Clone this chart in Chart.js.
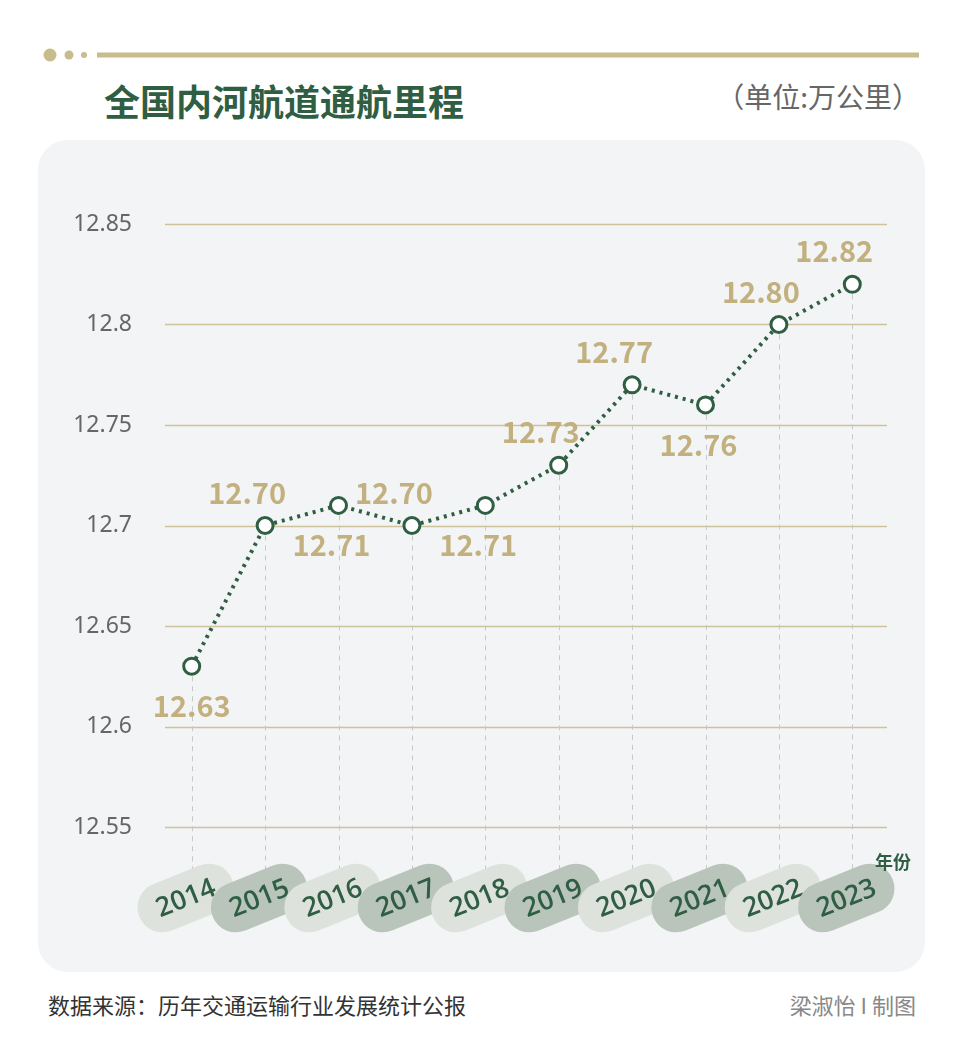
<!DOCTYPE html>
<html><head><meta charset="utf-8">
<script src="https://cdn.jsdelivr.net/npm/chart.js@4"></script>
<style>
body{margin:0;width:960px;height:1051px;background:#fff;font-family:"Noto Sans CJK SC","Noto Sans",sans-serif;position:relative;overflow:hidden}
.card{position:absolute;left:38px;top:140px;width:887px;height:832px;background:#f3f4f5;border-radius:30px}
canvas{position:absolute;left:0;top:0}
.t{position:absolute;white-space:nowrap}
</style></head><body>
<div class="card"></div>
<svg class="t" style="left:0;top:0" width="960" height="70">
<circle cx="50" cy="55" r="6.5" fill="#c8bc8c"/><circle cx="69" cy="55" r="4.5" fill="#c8bc8c"/><circle cx="84" cy="55" r="3" fill="#c8bc8c"/>
<rect x="97" y="52.5" width="822" height="5" fill="#c8bc8c"/></svg>
<div class="t" style="left:104px;top:74px;font-size:36px;font-weight:bold;color:#2f5e43">全国内河航道通航里程</div>
<div class="t" style="right:40px;top:76px;font-size:28px;color:#666">（单位:万公里）</div>
<div class="t" style="left:48px;top:988px;font-size:22px;color:#333">数据来源：历年交通运输行业发展统计公报</div>
<div class="t" style="right:44px;top:988px;font-size:22px;color:#888">梁淑怡 I 制图</div>
<canvas id="c" width="960" height="1051"></canvas>
<script>
const years=["2014","2015","2016","2017","2018","2019","2020","2021","2022","2023"];
const values=[12.63,12.70,12.71,12.70,12.71,12.73,12.77,12.76,12.80,12.82];
const labelPos=["below","above","below","above","below","above","above","below","above","above"];
const yTicks=[12.55,12.6,12.65,12.7,12.75,12.8,12.85];
const G="#2f5e43",GOLD="#c2b07f";
const deco={id:"deco",
beforeDatasetsDraw(ch){const c=ch.ctx,a=ch.chartArea,y=ch.scales.y,x=ch.scales.x;c.save();
 c.strokeStyle="#cdc39b";c.lineWidth=1.5;
 yTicks.forEach(v=>{const py=Math.round(y.getPixelForValue(v))+.5;c.beginPath();c.moveTo(165,py);c.lineTo(887,py);c.stroke();});
 c.strokeStyle="#c8c8c8";c.lineWidth=1;c.setLineDash([5,5]);
 values.forEach((v,i)=>{const px=Math.round(x.getPixelForValue(i))+.5;c.beginPath();c.moveTo(px,y.getPixelForValue(v));c.lineTo(px,875);c.stroke();});
 c.restore();},
afterDatasetsDraw(ch){const c=ch.ctx,y=ch.scales.y,x=ch.scales.x;c.save();
 c.font="bold 29px 'Noto Sans CJK SC','Noto Sans',sans-serif";c.fillStyle=GOLD;c.textAlign="center";c.textBaseline="middle";
 values.forEach((v,i)=>{const px=x.getPixelForValue(i),py=y.getPixelForValue(v);const ab=labelPos[i]==="above";
  c.fillText(v.toFixed(2),px+(ab?-18:(i===0?0:-7)),py+(ab?-33:40));});
 years.forEach((t,i)=>{const px=x.getPixelForValue(i);c.save();c.translate(px-6,898);c.rotate(-22*Math.PI/180);
  c.fillStyle=i%2?"#b9c5bb":"#dde2dd";c.beginPath();c.roundRect(-50,-25,100,50,25);c.fill();
  c.fillStyle=G;c.font="600 27px 'Open Sans','Noto Sans',sans-serif";c.fillText(t,0,1);c.restore();});
 c.fillStyle=G;c.font="bold 18px 'Noto Sans CJK SC',sans-serif";c.fillText("年份",893,862);
 c.restore();}};
new Chart(document.getElementById("c"),{type:"line",
data:{labels:years,datasets:[{data:values,borderColor:G,borderWidth:4,borderDash:[3,5],borderCapStyle:"butt",tension:0,
 pointRadius:8,pointHoverRadius:8,pointBackgroundColor:"#fff",pointBorderColor:G,pointBorderWidth:3}]},
options:{responsive:false,animation:false,events:[],
 layout:{padding:{left:0,right:71,top:224,bottom:224}},
 plugins:{legend:{display:false},tooltip:{enabled:false}},
 scales:{x:{display:false,offset:true},
  y:{min:12.55,max:12.85,afterFit(s){s.width=155;},afterBuildTicks(s){s.ticks=yTicks.map(v=>({value:v}));},
   grid:{display:false},border:{display:false},
   ticks:{padding:15,color:"#666",font:{size:23,family:"'Noto Sans','Open Sans',sans-serif"},callback:v=>String(v)}}}},
plugins:[deco]});
</script></body></html>
